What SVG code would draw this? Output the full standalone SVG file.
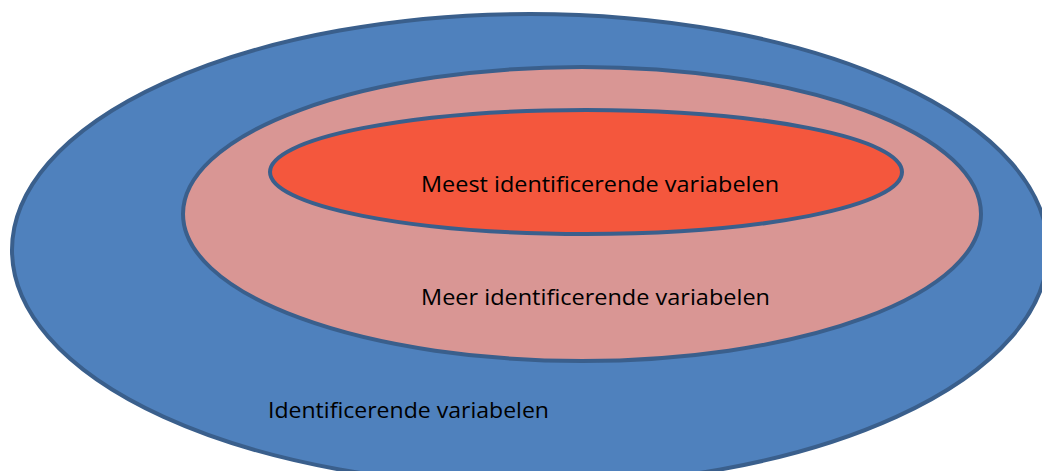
<svg xmlns="http://www.w3.org/2000/svg" width="1042" height="471" viewBox="0 0 1042 471">
<style>
.t{font-family:"Open Sans","Liberation Sans",sans-serif;font-size:21px;fill:#000}
.s{stroke:#3A5F8C;stroke-width:4}
</style>
<rect width="1042" height="471" fill="#fff"/>
<g id="outer"><ellipse class="s" cx="530" cy="250" rx="518" ry="236" fill="#4F81BD"/>
<text class="t" x="268" y="418" textLength="281" lengthAdjust="spacingAndGlyphs">Identificerende variabelen</text></g>
<g id="middle"><ellipse class="s" cx="582" cy="214" rx="399" ry="147" fill="#D99694"/>
<text class="t" x="421" y="305" textLength="349" lengthAdjust="spacingAndGlyphs">Meer identificerende variabelen</text></g>
<g id="inner"><ellipse class="s" cx="586" cy="172" rx="316" ry="62" fill="#F4573D"/>
<text class="t" x="421" y="192" textLength="358" lengthAdjust="spacingAndGlyphs">Meest identificerende variabelen</text></g>
<g id="connectors"/>
</svg>
